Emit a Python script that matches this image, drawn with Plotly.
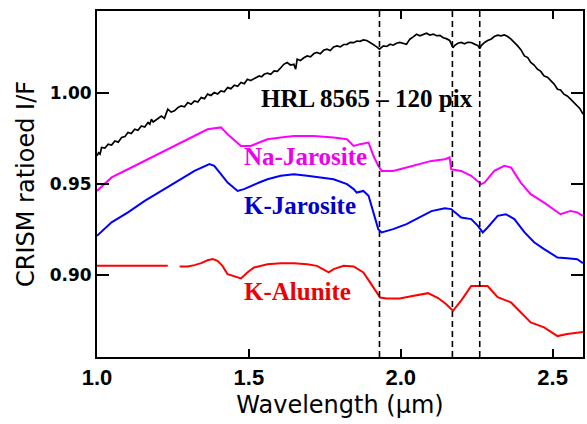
import plotly.graph_objects as go

# ---------------- data ----------------
hrl_wl = [1.000, 1.005, 1.010, 1.015, 1.026, 1.037, 1.048, 1.059, 1.070, 1.081, 1.092, 1.102, 1.113, 1.124,
          1.135, 1.146, 1.157, 1.168, 1.174, 1.179, 1.185, 1.190, 1.201, 1.212, 1.222, 1.233, 1.244, 1.255,
          1.266, 1.277, 1.288, 1.299, 1.310, 1.321, 1.332, 1.343, 1.354, 1.364, 1.375, 1.386, 1.397, 1.408,
          1.419, 1.430, 1.441, 1.452, 1.463, 1.474, 1.485, 1.495, 1.506, 1.517, 1.525, 1.534, 1.542, 1.550,
          1.561, 1.572, 1.583, 1.594, 1.605, 1.615, 1.626, 1.637, 1.648, 1.654, 1.659, 1.670, 1.681, 1.692,
          1.703, 1.714, 1.724, 1.735, 1.746, 1.757, 1.768, 1.779, 1.790, 1.801, 1.812, 1.823, 1.834, 1.845,
          1.855, 1.866, 1.877, 1.888, 1.899, 1.910, 1.921, 1.930, 1.937, 1.943, 1.954, 1.965, 1.975, 1.986,
          1.997, 2.008, 2.019, 2.025, 2.030, 2.041, 2.052, 2.063, 2.074, 2.085, 2.096, 2.107, 2.118, 2.129,
          2.140, 2.150, 2.161, 2.172, 2.177, 2.188, 2.199, 2.210, 2.221, 2.232, 2.243, 2.254, 2.260, 2.265,
          2.276, 2.286, 2.297, 2.308, 2.319, 2.330, 2.341, 2.352, 2.363, 2.374, 2.385, 2.396, 2.407, 2.418,
          2.428, 2.439, 2.450, 2.461, 2.472, 2.483, 2.494, 2.505, 2.516, 2.526, 2.537, 2.548, 2.559, 2.570,
          2.581, 2.590, 2.600]
hrl_if = [0.9656, 0.9672, 0.9665, 0.9702, 0.9698, 0.9720, 0.9715, 0.9738, 0.9731, 0.9757, 0.9762, 0.9784, 0.9778, 0.9802,
          0.9796, 0.9820, 0.9814, 0.9839, 0.9830, 0.9857, 0.9842, 0.9848, 0.9866, 0.9875, 0.9862, 0.9912, 0.9896, 0.9903,
          0.9921, 0.9930, 0.9925, 0.9949, 0.9940, 0.9958, 0.9952, 0.9976, 0.9970, 0.9995, 0.9988, 1.0004, 0.9996, 1.0013,
          1.0008, 1.0031, 1.0025, 1.0044, 1.0038, 1.0059, 1.0052, 1.0077, 1.0070, 1.0080, 1.0091, 1.0095, 1.0090, 1.0104,
          1.0110, 1.0104, 1.0123, 1.0120, 1.0140, 1.0159, 1.0169, 1.0155, 1.0159, 1.0132, 1.0187, 1.0180, 1.0195, 1.0205,
          1.0200, 1.0218, 1.0224, 1.0217, 1.0236, 1.0242, 1.0235, 1.0254, 1.0260, 1.0255, 1.0268, 1.0269, 1.0280, 1.0278,
          1.0287, 1.0285, 1.0293, 1.0290, 1.0279, 1.0268, 1.0255, 1.0242, 1.0252, 1.0260, 1.0257, 1.0269, 1.0264, 1.0275,
          1.0279, 1.0272, 1.0269, 1.0285, 1.0297, 1.0310, 1.0324, 1.0316, 1.0322, 1.0330, 1.0320, 1.0325, 1.0316, 1.0318,
          1.0305, 1.0300, 1.0290, 1.0250, 1.0262, 1.0275, 1.0279, 1.0272, 1.0280, 1.0279, 1.0270, 1.0262, 1.0245, 1.0262,
          1.0279, 1.0290, 1.0297, 1.0312, 1.0319, 1.0315, 1.0320, 1.0312, 1.0297, 1.0280, 1.0260, 1.0238, 1.0205, 1.0196,
          1.0169, 1.0155, 1.0132, 1.0120, 1.0095, 1.0088, 1.0068, 1.0050, 1.0022, 1.0018, 0.9995, 0.9985, 0.9967, 0.9950,
          0.9930, 0.9915, 0.9885]

na_wl = [1.000, 1.048, 1.102, 1.157, 1.212, 1.266, 1.321, 1.364, 1.408, 1.430, 1.474, 1.506, 1.534, 1.561,
         1.605, 1.648, 1.714, 1.779, 1.823, 1.845, 1.866, 1.894, 1.910, 1.926, 1.937, 1.975, 2.019, 2.057,
         2.101, 2.145, 2.161, 2.166, 2.199, 2.232, 2.265, 2.276, 2.308, 2.341, 2.363, 2.395, 2.428, 2.472,
         2.526, 2.559, 2.581, 2.600]
na_if = [0.9463, 0.9537, 0.9582, 0.9628, 0.9674, 0.9720, 0.9765, 0.9802, 0.9812, 0.9775, 0.9710, 0.9710, 0.9729, 0.9747,
         0.9757, 0.9765, 0.9765, 0.9757, 0.9747, 0.9710, 0.9720, 0.9729, 0.9656, 0.9601, 0.9573, 0.9573, 0.9592, 0.9610,
         0.9628, 0.9637, 0.9647, 0.9582, 0.9573, 0.9546, 0.9500, 0.9509, 0.9573, 0.9601, 0.9592, 0.9509, 0.9445, 0.9399,
         0.9335, 0.9353, 0.9345, 0.9326]

kj_wl = [1.000, 1.048, 1.102, 1.157, 1.212, 1.266, 1.321, 1.370, 1.386, 1.408, 1.430, 1.463, 1.484, 1.534,
         1.561, 1.605, 1.648, 1.692, 1.735, 1.779, 1.823, 1.845, 1.855, 1.877, 1.894, 1.910, 1.926, 1.937,
         1.975, 2.019, 2.057, 2.101, 2.145, 2.166, 2.199, 2.232, 2.254, 2.270, 2.286, 2.319, 2.346, 2.374,
         2.407, 2.439, 2.472, 2.516, 2.548, 2.581, 2.600]
kj_if = [0.9216, 0.9290, 0.9345, 0.9408, 0.9463, 0.9518, 0.9573, 0.9610, 0.9601, 0.9555, 0.9509, 0.9463, 0.9473, 0.9509,
         0.9527, 0.9546, 0.9555, 0.9546, 0.9537, 0.9527, 0.9500, 0.9473, 0.9454, 0.9463, 0.9436, 0.9345, 0.9253, 0.9235,
         0.9253, 0.9280, 0.9313, 0.9352, 0.9367, 0.9363, 0.9317, 0.9308, 0.9271, 0.9235, 0.9262, 0.9326, 0.9335, 0.9308,
         0.9236, 0.9181, 0.9143, 0.9097, 0.9093, 0.9088, 0.9066]

ka_wl = [1.000, 1.233, None, 1.272, 1.299, 1.321, 1.343, 1.364, 1.381, 1.397, 1.413, 1.430, 1.452, 1.474,
         1.495, 1.517, 1.561, 1.605, 1.648, 1.692, 1.724, 1.746, 1.763, 1.779, 1.812, 1.845, 1.877, 1.899,
         1.921, 1.932, 1.954, 1.997, 2.030, 2.057, 2.090, 2.123, 2.149, 2.172, 2.200, 2.232, 2.286, 2.319,
         2.363, 2.394, 2.428, 2.472, 2.516, 2.548, 2.600]
ka_if = [0.9051, 0.9051, None, 0.9048, 0.9048, 0.9055, 0.9066, 0.9082, 0.9088, 0.9079, 0.9051, 0.9005, 0.8993, 0.8982,
         0.9015, 0.9042, 0.9060, 0.9066, 0.9066, 0.9060, 0.9051, 0.9033, 0.9015, 0.9033, 0.9051, 0.9048, 0.9015, 0.8960,
         0.8905, 0.8877, 0.8872, 0.8872, 0.8883, 0.8890, 0.8901, 0.8874, 0.8841, 0.8804, 0.8863, 0.8940, 0.8940, 0.8879,
         0.8850, 0.8797, 0.8740, 0.8713, 0.8665, 0.8676, 0.8688]

band_centers = [1.93, 2.17, 2.26]

label_texts = ["HRL 8565 \u2013 120 pix", "Na-Jarosite", "K-Jarosite", "K-Alunite"]
label_x = [1.534, 1.478, 1.478, 1.478]
label_y = [0.9972, 0.9654, 0.9385, 0.8912]
label_colors = ["#000000", "#EE00EE", "#0000CC", "#EE0000"]

x_range = [1.0, 2.6]
y_range = [0.855, 1.0452]

# ---------------- figure ----------------
fig = go.Figure()
fig.add_trace(go.Scatter(x=hrl_wl, y=hrl_if, mode="lines", line=dict(color="black", width=1.7), showlegend=False))
fig.add_trace(go.Scatter(x=na_wl, y=na_if, mode="lines", line=dict(color="#FF00FF", width=2), showlegend=False))
fig.add_trace(go.Scatter(x=kj_wl, y=kj_if, mode="lines", line=dict(color="#0000FF", width=2), showlegend=False))
fig.add_trace(go.Scatter(x=ka_wl, y=ka_if, mode="lines", line=dict(color="#FF0000", width=2),
                         connectgaps=False, showlegend=False))

for bc in band_centers:
    fig.add_shape(type="line", xref="x", yref="y", x0=bc, x1=bc, y0=y_range[0], y1=y_range[1],
                  line=dict(color="black", width=1.6, dash="6px,4px"), layer="above")

for t, xx, yy, c in zip(label_texts, label_x, label_y, label_colors):
    fig.add_annotation(x=xx, y=yy, xref="x", yref="y", text="<b>%s</b>" % t, showarrow=False,
                       xanchor="left", yanchor="middle",
                       font=dict(family="Liberation Serif, Times New Roman, serif", size=25, color=c))

fig.update_layout(
    width=587, height=424,
    margin=dict(l=97, r=2, t=11, b=67),
    paper_bgcolor="white", plot_bgcolor="white",
    showlegend=False,
    xaxis=dict(
        range=x_range, tickmode="linear", tick0=1.0, dtick=0.5, tickformat=".1f",
        ticks="inside", ticklen=8, tickwidth=2, tickcolor="black",
        showline=True, linecolor="black", linewidth=2, mirror="ticks",
        showgrid=False, zeroline=False,
        tickprefix="<b>", ticksuffix="</b>",
        tickfont=dict(family="Liberation Sans, Arial, sans-serif", size=22, color="black"),
        title=dict(text="Wavelength (\u00b5m)", standoff=7,
                   font=dict(family="DejaVu Sans, sans-serif", size=24, color="black")),
    ),
    yaxis=dict(
        range=y_range, tickmode="linear", tick0=0.90, dtick=0.05, tickformat=".2f",
        ticks="inside", ticklen=12, tickwidth=2, tickcolor="black",
        showline=True, linecolor="black", linewidth=2, mirror="ticks",
        showgrid=False, zeroline=False,
        tickprefix="<b>", ticksuffix="</b>",
        tickfont=dict(family="DejaVu Sans, sans-serif", size=17, color="black"),
        title=dict(text="CRISM ratioed I/F", standoff=8,
                   font=dict(family="DejaVu Sans, sans-serif", size=24, color="black")),
    ),
)

fig.write_html("out.html")
